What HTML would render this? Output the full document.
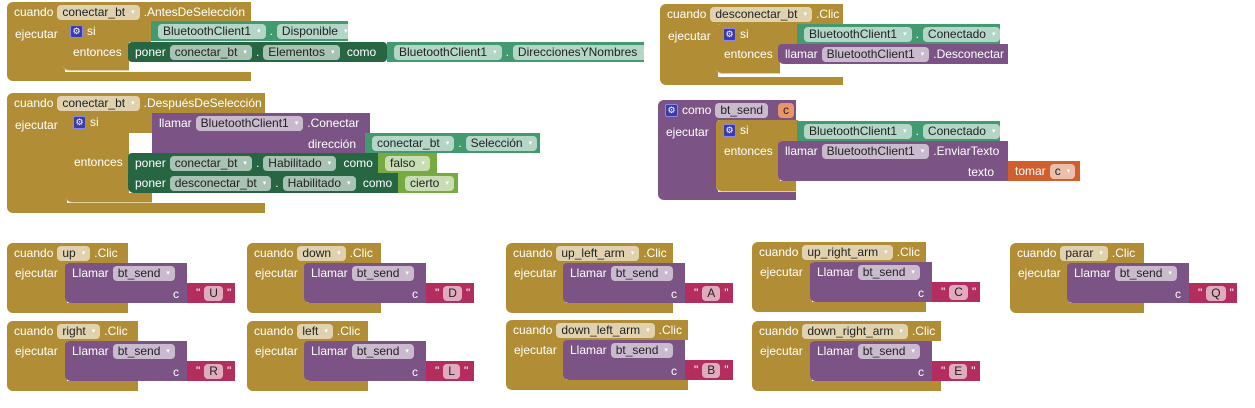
<!DOCTYPE html>
<html><head><meta charset="utf-8"><style>
body{margin:0;width:1255px;height:408px;background:#fff;position:relative;overflow:hidden;font-family:"Liberation Sans",sans-serif;font-size:12px;color:#fff}
.r{position:absolute;box-sizing:border-box;white-space:nowrap}
.g{background:#b18e35}
.gi{background:#b18e35;}
.gr{background:#439970}
.st{background:#266643}
.pu{background:#7c5385}
.tx{background:#b32d5e}
.lg{background:#77ab41}
.or{background:#d05f2d}
.row{display:flex;align-items:center;gap:4px;height:20px;padding-left:7px}
.f{display:inline-flex;align-items:center;height:15px;padding:0 5px;border-radius:4px;background:rgba(255,255,255,.6);color:#222;font-size:12px}
.f::after{content:"▾";font-size:7px;color:#fff;margin-left:6px}
.f.n::after{content:none}
.l{position:absolute;white-space:nowrap}
.gear{display:inline-block;width:13px;height:13px;background:#3c3ca8;border:1px solid #8888ee;border-radius:2px;box-sizing:border-box;color:#fff;font-size:9px;line-height:11px;text-align:center}
.bl{border-bottom-left-radius:6px}
.tl{border-top-left-radius:6px}
</style></head><body>

<!-- Block 1 -->
<div class="r g tl" style="left:7px;top:2px;width:244px;height:20px"><div class="row"><span>cuando</span><span class="f">conectar_bt</span><span>.AntesDeSelección</span></div></div>
<div class="r g" style="left:7px;top:22px;width:58px;height:52px"><span class="l" style="left:8px;top:5px">ejecutar</span></div>
<div class="r g bl" style="left:7px;top:72px;width:244px;height:9px"></div>
<div class="r gi" style="left:63px;top:21px;width:88px;height:21px;border-radius:4px 0 0 0"><div class="row"><span class="gear">⚙</span><span>si</span></div></div>
<div class="r gi" style="left:63px;top:42px;width:66px;height:28px"><span class="l" style="left:10px;top:3px">entonces</span></div>
<div class="r gi bl" style="left:63px;top:62px;width:66px;height:9px;border-bottom:1px solid #e0d0a0"></div>
<div class="r gr" style="left:151px;top:21px;width:197px;height:20px"><div class="row"><span class="f">BluetoothClient1</span><span>.</span><span class="f">Disponible</span></div></div>
<div class="r st" style="left:128px;top:42px;width:259px;height:20px;border-radius:4px"><div class="row"><span>poner</span><span class="f">conectar_bt</span><span>.</span><span class="f">Elementos</span><span>&nbsp;como</span></div></div>
<div class="r gr" style="left:387px;top:42px;width:257px;height:20px"><div class="row"><span class="f">BluetoothClient1</span><span>.</span><span class="f">DireccionesYNombres</span></div></div>

<!-- Block 2 -->
<div class="r g tl" style="left:7px;top:93px;width:258px;height:20px"><div class="row"><span>cuando</span><span class="f">conectar_bt</span><span>.DespuésDeSelección</span></div></div>
<div class="r g" style="left:7px;top:112px;width:60px;height:92px"><span class="l" style="left:8px;top:6px">ejecutar</span></div>
<div class="r g bl" style="left:7px;top:203px;width:258px;height:10px"></div>
<div class="r gi" style="left:66px;top:112px;width:87px;height:21px;border-radius:4px 0 0 0"><div class="row"><span class="gear">⚙</span><span>si</span></div></div>
<div class="r gi" style="left:66px;top:133px;width:63px;height:62px"><span class="l" style="left:8px;top:22px">entonces</span></div>
<div class="r gi bl" style="left:66px;top:193px;width:86px;height:10px;border-bottom:1px solid #e0d0a0"></div>
<div class="r pu" style="left:152px;top:113px;width:218px;height:40px"><div class="row"><span>llamar</span><span class="f">BluetoothClient1</span><span>.Conectar</span></div><span class="l" style="right:14px;top:24px">dirección</span></div>
<div class="r gr" style="left:365px;top:133px;width:175px;height:20px"><div class="row"><span class="f">conectar_bt</span><span>.</span><span class="f">Selección</span></div></div>
<div class="r st" style="left:128px;top:153px;width:250px;height:20px;border-radius:4px 0 0 0"><div class="row"><span>poner</span><span class="f">conectar_bt</span><span>.</span><span class="f">Habilitado</span><span>&nbsp;como</span></div></div>
<div class="r lg" style="left:378px;top:153px;width:59px;height:20px"><div class="row"><span class="f">falso</span></div></div>
<div class="r st bl" style="left:128px;top:173px;width:270px;height:20px"><div class="row"><span>poner</span><span class="f">desconectar_bt</span><span>.</span><span class="f">Habilitado</span><span>&nbsp;como</span></div></div>
<div class="r lg" style="left:398px;top:173px;width:60px;height:20px"><div class="row"><span class="f">cierto</span></div></div>

<!-- Block 3 -->
<div class="r g tl" style="left:660px;top:4px;width:183px;height:20px"><div class="row"><span>cuando</span><span class="f">desconectar_bt</span><span>.Clic</span></div></div>
<div class="r g" style="left:660px;top:24px;width:58px;height:54px"><span class="l" style="left:8px;top:5px">ejecutar</span></div>
<div class="r g bl" style="left:660px;top:77px;width:183px;height:8px"></div>
<div class="r gi" style="left:716px;top:24px;width:82px;height:21px;border-radius:4px 0 0 0"><div class="row"><span class="gear">⚙</span><span>si</span></div></div>
<div class="r gi" style="left:716px;top:44px;width:64px;height:24px"><span class="l" style="left:8px;top:3px">entonces</span></div>
<div class="r gi bl" style="left:716px;top:64px;width:64px;height:10px;border-bottom:1px solid #e0d0a0"></div>
<div class="r gr" style="left:797px;top:24px;width:203px;height:20px"><div class="row"><span class="f">BluetoothClient1</span><span>.</span><span class="f">Conectado</span></div></div>
<div class="r pu bl" style="left:778px;top:44px;width:230px;height:20px;border-top-left-radius:4px"><div class="row"><span>llamar</span><span class="f">BluetoothClient1</span><span>.Desconectar</span></div></div>

<!-- Block 4 proc -->
<div class="r pu tl" style="left:658px;top:100px;width:138px;height:20px"><div class="row"><span class="gear">⚙</span><span>como</span><span class="f n">bt_send</span><span class="f n" style="background:#e8956a;margin-left:6px">c</span></div></div>
<div class="r pu" style="left:658px;top:120px;width:60px;height:74px"><span class="l" style="left:8px;top:5px">ejecutar</span></div>
<div class="r pu bl" style="left:658px;top:192px;width:138px;height:8px"></div>
<div class="r gi" style="left:716px;top:120px;width:82px;height:21px;border-radius:4px 0 0 0"><div class="row"><span class="gear">⚙</span><span>si</span></div></div>
<div class="r gi" style="left:716px;top:140px;width:64px;height:44px"><span class="l" style="left:8px;top:4px">entonces</span></div>
<div class="r gi bl" style="left:716px;top:181px;width:80px;height:11px;border-bottom:1px solid #e0d0a0"></div>
<div class="r gr" style="left:797px;top:121px;width:203px;height:20px"><div class="row"><span class="f">BluetoothClient1</span><span>.</span><span class="f">Conectado</span></div></div>
<div class="r pu bl" style="left:778px;top:141px;width:230px;height:40px;border-top-left-radius:4px"><div class="row"><span>llamar</span><span class="f">BluetoothClient1</span><span>.EnviarTexto</span></div><span class="l" style="right:14px;top:24px">texto</span></div>
<div class="r or" style="left:1008px;top:161px;width:72px;height:20px"><div class="row"><span>tomar</span><span class="f">c</span></div></div>

<!-- small blocks row 1 -->
<div class="r" style="left:7px;top:243px;width:240px;height:72px">
<div class="r g tl" style="left:0;top:0;width:121px;height:20px"><div class="row"><span>cuando</span><span class="f">up</span><span>.Clic</span></div></div>
<div class="r g" style="left:0;top:20px;width:60px;height:42px"><span class="l" style="left:8px;top:3px">ejecutar</span></div>
<div class="r g bl" style="left:0;top:60px;width:121px;height:10px"></div>
<div class="r pu bl" style="left:58px;top:20px;width:122px;height:40px;border-top-left-radius:4px"><div class="row"><span>Llamar</span><span class="f">bt_send</span></div><span class="l" style="right:8px;top:24px">c</span></div>
<div class="r tx" style="left:180px;top:40px;width:48px;height:20px"><div class="row" style="padding-left:9px"><span>"</span><span class="f n">U</span><span>"</span></div></div>
</div>
<div class="r" style="left:247px;top:243px;width:240px;height:72px">
<div class="r g tl" style="left:0;top:0;width:134px;height:20px"><div class="row"><span>cuando</span><span class="f">down</span><span>.Clic</span></div></div>
<div class="r g" style="left:0;top:20px;width:60px;height:42px"><span class="l" style="left:8px;top:3px">ejecutar</span></div>
<div class="r g bl" style="left:0;top:60px;width:134px;height:10px"></div>
<div class="r pu bl" style="left:57px;top:20px;width:122px;height:40px;border-top-left-radius:4px"><div class="row"><span>Llamar</span><span class="f">bt_send</span></div><span class="l" style="right:8px;top:24px">c</span></div>
<div class="r tx" style="left:179px;top:40px;width:48px;height:20px"><div class="row" style="padding-left:9px"><span>"</span><span class="f n">D</span><span>"</span></div></div>
</div>
<div class="r" style="left:506px;top:243px;width:240px;height:72px">
<div class="r g tl" style="left:0;top:0;width:167px;height:20px"><div class="row"><span>cuando</span><span class="f">up_left_arm</span><span>.Clic</span></div></div>
<div class="r g" style="left:0;top:20px;width:60px;height:42px"><span class="l" style="left:8px;top:3px">ejecutar</span></div>
<div class="r g bl" style="left:0;top:60px;width:167px;height:10px"></div>
<div class="r pu bl" style="left:57px;top:20px;width:122px;height:40px;border-top-left-radius:4px"><div class="row"><span>Llamar</span><span class="f">bt_send</span></div><span class="l" style="right:8px;top:24px">c</span></div>
<div class="r tx" style="left:179px;top:40px;width:48px;height:20px"><div class="row" style="padding-left:9px"><span>"</span><span class="f n">A</span><span>"</span></div></div>
</div>
<div class="r" style="left:752px;top:242px;width:240px;height:72px">
<div class="r g tl" style="left:0;top:0;width:174px;height:20px"><div class="row"><span>cuando</span><span class="f">up_right_arm</span><span>.Clic</span></div></div>
<div class="r g" style="left:0;top:20px;width:60px;height:42px"><span class="l" style="left:8px;top:3px">ejecutar</span></div>
<div class="r g bl" style="left:0;top:60px;width:174px;height:10px"></div>
<div class="r pu bl" style="left:58px;top:20px;width:122px;height:40px;border-top-left-radius:4px"><div class="row"><span>Llamar</span><span class="f">bt_send</span></div><span class="l" style="right:8px;top:24px">c</span></div>
<div class="r tx" style="left:180px;top:40px;width:48px;height:20px"><div class="row" style="padding-left:9px"><span>"</span><span class="f n">C</span><span>"</span></div></div>
</div>
<div class="r" style="left:1010px;top:243px;width:240px;height:72px">
<div class="r g tl" style="left:0;top:0;width:134px;height:20px"><div class="row"><span>cuando</span><span class="f">parar</span><span>.Clic</span></div></div>
<div class="r g" style="left:0;top:20px;width:60px;height:42px"><span class="l" style="left:8px;top:3px">ejecutar</span></div>
<div class="r g bl" style="left:0;top:60px;width:134px;height:10px"></div>
<div class="r pu bl" style="left:57px;top:20px;width:122px;height:40px;border-top-left-radius:4px"><div class="row"><span>Llamar</span><span class="f">bt_send</span></div><span class="l" style="right:8px;top:24px">c</span></div>
<div class="r tx" style="left:179px;top:40px;width:48px;height:20px"><div class="row" style="padding-left:9px"><span>"</span><span class="f n">Q</span><span>"</span></div></div>
</div>
<!-- row 2 -->
<div class="r" style="left:7px;top:321px;width:240px;height:72px">
<div class="r g tl" style="left:0;top:0;width:131px;height:20px"><div class="row"><span>cuando</span><span class="f">right</span><span>.Clic</span></div></div>
<div class="r g" style="left:0;top:20px;width:60px;height:42px"><span class="l" style="left:8px;top:3px">ejecutar</span></div>
<div class="r g bl" style="left:0;top:60px;width:131px;height:10px"></div>
<div class="r pu bl" style="left:58px;top:20px;width:122px;height:40px;border-top-left-radius:4px"><div class="row"><span>Llamar</span><span class="f">bt_send</span></div><span class="l" style="right:8px;top:24px">c</span></div>
<div class="r tx" style="left:180px;top:40px;width:48px;height:20px"><div class="row" style="padding-left:9px"><span>"</span><span class="f n">R</span><span>"</span></div></div>
</div>
<div class="r" style="left:247px;top:321px;width:240px;height:72px">
<div class="r g tl" style="left:0;top:0;width:121px;height:20px"><div class="row"><span>cuando</span><span class="f">left</span><span>.Clic</span></div></div>
<div class="r g" style="left:0;top:20px;width:60px;height:42px"><span class="l" style="left:8px;top:3px">ejecutar</span></div>
<div class="r g bl" style="left:0;top:60px;width:121px;height:10px"></div>
<div class="r pu bl" style="left:57px;top:20px;width:122px;height:40px;border-top-left-radius:4px"><div class="row"><span>Llamar</span><span class="f">bt_send</span></div><span class="l" style="right:8px;top:24px">c</span></div>
<div class="r tx" style="left:179px;top:40px;width:48px;height:20px"><div class="row" style="padding-left:9px"><span>"</span><span class="f n">L</span><span>"</span></div></div>
</div>
<div class="r" style="left:506px;top:320px;width:240px;height:72px">
<div class="r g tl" style="left:0;top:0;width:182px;height:20px"><div class="row"><span>cuando</span><span class="f">down_left_arm</span><span>.Clic</span></div></div>
<div class="r g" style="left:0;top:20px;width:60px;height:42px"><span class="l" style="left:8px;top:3px">ejecutar</span></div>
<div class="r g bl" style="left:0;top:60px;width:182px;height:10px"></div>
<div class="r pu bl" style="left:57px;top:20px;width:122px;height:40px;border-top-left-radius:4px"><div class="row"><span>Llamar</span><span class="f">bt_send</span></div><span class="l" style="right:8px;top:24px">c</span></div>
<div class="r tx" style="left:179px;top:40px;width:48px;height:20px"><div class="row" style="padding-left:9px"><span>"</span><span class="f n">B</span><span>"</span></div></div>
</div>
<div class="r" style="left:752px;top:321px;width:240px;height:72px">
<div class="r g tl" style="left:0;top:0;width:189px;height:20px"><div class="row"><span>cuando</span><span class="f">down_right_arm</span><span>.Clic</span></div></div>
<div class="r g" style="left:0;top:20px;width:60px;height:42px"><span class="l" style="left:8px;top:3px">ejecutar</span></div>
<div class="r g bl" style="left:0;top:60px;width:189px;height:10px"></div>
<div class="r pu bl" style="left:58px;top:20px;width:122px;height:40px;border-top-left-radius:4px"><div class="row"><span>Llamar</span><span class="f">bt_send</span></div><span class="l" style="right:8px;top:24px">c</span></div>
<div class="r tx" style="left:180px;top:40px;width:48px;height:20px"><div class="row" style="padding-left:9px"><span>"</span><span class="f n">E</span><span>"</span></div></div>
</div>

</body></html>
